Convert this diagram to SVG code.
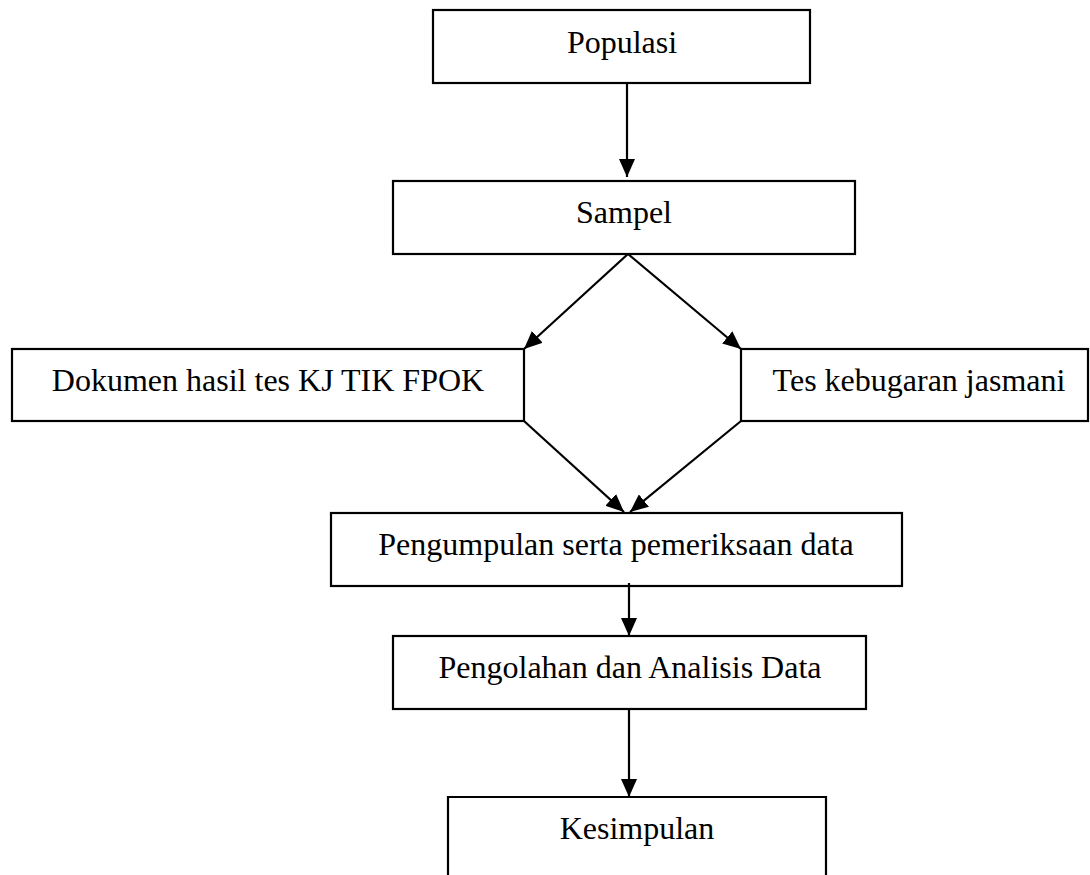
<svg xmlns="http://www.w3.org/2000/svg" width="1090" height="875" viewBox="0 0 1090 875">
<style>
.box{fill:#fff;stroke:#000;stroke-width:2.2}
.lbl{font-family:"Liberation Serif","Times New Roman",serif;font-size:32px;fill:#000;text-anchor:middle}
.con{fill:none;stroke:#000;stroke-width:2.2}
</style>
<defs>
<marker id="ah" viewBox="0 0 18 16" refX="18" refY="8" markerWidth="18" markerHeight="16" markerUnits="userSpaceOnUse" orient="auto">
<path d="M0,0 L18,8 L0,16 Z" fill="#000"/>
</marker>
</defs>
<rect width="1090" height="875" fill="#fff"/>
<g id="populasi"><rect class="box" x="433" y="10" width="377" height="73"/><text class="lbl" x="622" y="53">Populasi</text></g>
<g id="sampel"><rect class="box" x="393" y="181" width="462" height="73"/><text class="lbl" x="624" y="223">Sampel</text></g>
<g id="dokumen"><rect class="box" x="12" y="349" width="512" height="72"/><text class="lbl" x="268" y="391">Dokumen hasil tes KJ TIK FPOK</text></g>
<g id="tes"><rect class="box" x="741" y="349" width="347" height="72"/><text class="lbl" x="919" y="391">Tes kebugaran jasmani</text></g>
<g id="pengumpulan"><rect class="box" x="331" y="513" width="571" height="73"/><text class="lbl" x="616" y="555">Pengumpulan serta pemeriksaan data</text></g>
<g id="pengolahan"><rect class="box" x="393" y="636" width="473" height="73"/><text class="lbl" x="630" y="678">Pengolahan dan Analisis Data</text></g>
<g id="kesimpulan"><path class="box" d="M448,880 L448,797 L826,797 L826,880"/><text class="lbl" x="637" y="839">Kesimpulan</text></g>
<g id="connectors">
<line class="con" x1="627" y1="83" x2="627" y2="177" marker-end="url(#ah)"/>
<line class="con" x1="628" y1="254" x2="524" y2="349" marker-end="url(#ah)"/>
<line class="con" x1="628" y1="254" x2="741" y2="349" marker-end="url(#ah)"/>
<line class="con" x1="524" y1="421" x2="624" y2="512" marker-end="url(#ah)"/>
<line class="con" x1="741" y1="421" x2="630" y2="512" marker-end="url(#ah)"/>
<line class="con" x1="629" y1="583" x2="629" y2="636" marker-end="url(#ah)"/>
<line class="con" x1="629" y1="709" x2="629" y2="797" marker-end="url(#ah)"/>
</g>
</svg>
